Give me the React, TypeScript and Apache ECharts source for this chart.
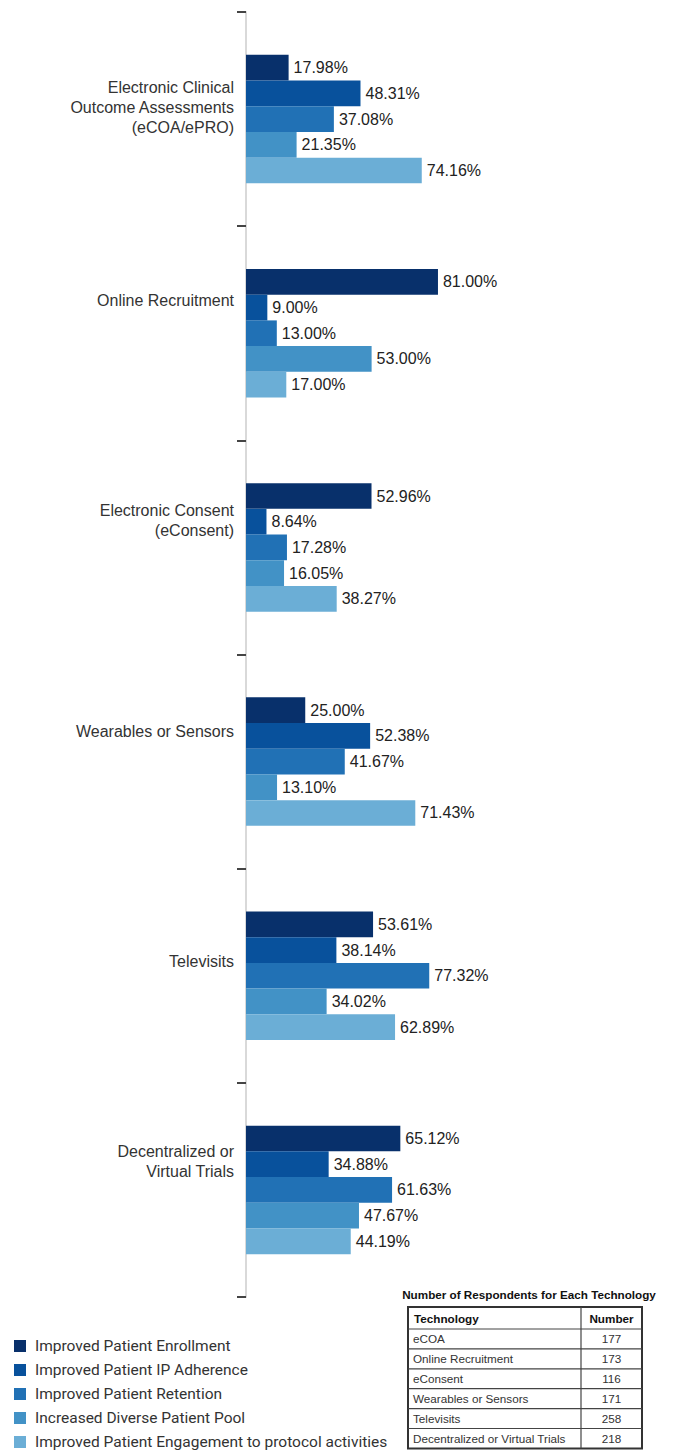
import React, { useEffect, useRef } from "react";
import * as echarts from "echarts";

const categories = [
  "Electronic Clinical\nOutcome Assessments\n(eCOA/ePRO)",
  "Online Recruitment",
  "Electronic Consent\n(eConsent)",
  "Wearables or Sensors",
  "Televisits",
  "Decentralized or\nVirtual Trials",
];

const seriesNames = [
  "Improved Patient Enrollment",
  "Improved Patient IP Adherence",
  "Improved Patient Retention",
  "Increased Diverse Patient Pool",
  "Improved Patient Engagement to protocol activities",
];

const enrollment = [17.98, 81.0, 52.96, 25.0, 53.61, 65.12];
const ipAdherence = [48.31, 9.0, 8.64, 52.38, 38.14, 34.88];
const retention = [37.08, 13.0, 17.28, 41.67, 77.32, 61.63];
const diversePool = [21.35, 53.0, 16.05, 13.1, 34.02, 47.67];
const engagement = [74.16, 17.0, 38.27, 71.43, 62.89, 44.19];

const tableTitle = "Number of Respondents for Each Technology";
const tableHeaders = ["Technology", "Number"];
const techNames = [
  "eCOA",
  "Online Recruitment",
  "eConsent",
  "Wearables or Sensors",
  "Televisits",
  "Decentralized or Virtual Trials",
];
const techCounts = [177, 173, 116, 171, 258, 218];

// layout / style (not data)
const colors = ["#08306b", "#08519c", "#2171b5", "#4292c6", "#6baed6"];
const labelShift = [12, 33, 27, 30, 14, 28];

export default function App() {
  const ref = useRef<HTMLDivElement>(null);

  useEffect(() => {
    document.body.style.margin = "0";
    const chart = echarts.init(ref.current!, null, { renderer: "svg" });

    const allSeries = [enrollment, ipAdherence, retention, diversePool, engagement];

    const rich: any = {
      t: { fontSize: 16, lineHeight: 20, color: "#333", fontFamily: "Liberation Sans, Arial, sans-serif", align: "right" },
    };
    labelShift.forEach((s, i) => {
      rich["s" + i] = { fontSize: 1, lineHeight: s * 2 };
    });

    const FF = "Liberation Sans, Arial, sans-serif";
    // table graphic
    const tL = 408, tR = 642, tDiv = 581, tTop = 1307, hdrH = 22, rowH = 19.9;
    const rowsY = [tTop, tTop + hdrH];
    for (let i = 1; i <= techNames.length; i++) rowsY.push(tTop + hdrH + rowH * i);
    const tBottom = rowsY[rowsY.length - 1];
    const g: any[] = [];
    g.push({
      type: "text",
      x: 529,
      y: 1294,
      style: {
        text: tableTitle,
        font: `bold 11.7px ${FF}`,
        fill: "#111",
        align: "center",
        verticalAlign: "middle",
      },
    });
    g.push({
      type: "rect",
      shape: { x: tL, y: tTop, width: tR - tL, height: tBottom - tTop },
      style: { fill: "#fff", stroke: "#333", lineWidth: 2 },
    });
    for (let i = 1; i < rowsY.length - 1; i++) {
      g.push({
        type: "line",
        shape: { x1: tL, y1: rowsY[i], x2: tR, y2: rowsY[i] },
        style: { stroke: "#444", lineWidth: 1.2 },
      });
    }
    g.push({
      type: "line",
      shape: { x1: tDiv, y1: tTop, x2: tDiv, y2: tBottom },
      style: { stroke: "#444", lineWidth: 1.2 },
    });
    g.push({
      type: "text",
      x: tL + 6,
      y: (rowsY[0] + rowsY[1]) / 2,
      style: { text: tableHeaders[0], font: `bold 11.7px ${FF}`, fill: "#111", verticalAlign: "middle" },
    });
    g.push({
      type: "text",
      x: (tDiv + tR) / 2,
      y: (rowsY[0] + rowsY[1]) / 2,
      style: { text: tableHeaders[1], font: `bold 11.7px ${FF}`, fill: "#111", align: "center", verticalAlign: "middle" },
    });
    techNames.forEach((n, i) => {
      const cy = (rowsY[i + 1] + rowsY[i + 2]) / 2;
      g.push({
        type: "text",
        x: tL + 5,
        y: cy,
        style: { text: n, font: `11.7px ${FF}`, fill: "#333", verticalAlign: "middle" },
      });
      g.push({
        type: "text",
        x: (tDiv + tR) / 2,
        y: cy,
        style: { text: String(techCounts[i]), font: `11.7px ${FF}`, fill: "#333", align: "center", verticalAlign: "middle" },
      });
    });

    chart.setOption({
      animation: false,
      backgroundColor: "#fff",
      grid: { left: 246, right: 190, top: 12, bottom: 155, containLabel: false },
      xAxis: { type: "value", min: 0, max: 100, show: false },
      yAxis: {
        type: "category",
        inverse: true,
        data: categories,
        axisLine: { show: true, lineStyle: { color: "#d9d9d9", width: 2 } },
        axisTick: { show: true, alignWithLabel: false, length: 9, lineStyle: { color: "#444", width: 2 } },
        axisLabel: {
          margin: 12,
          formatter: (v: string, i: number) =>
            v.split("\n").map((l) => `{t|${l}}`).join("\n") + `\n{s${i}| }`,
          rich,
        },
      },
      legend: {
        orient: "vertical",
        left: 9,
        top: 1333,
        height: 200,
        itemWidth: 12,
        itemHeight: 12,
        itemGap: 8,
        icon: "rect",
        data: seriesNames,
        textStyle: { fontSize: 15.5, color: "#333", fontFamily: "Roboto", padding: [0, 0, 0, 4] },
      },
      graphic: g,
      series: allSeries.map((d, i) => ({
        type: "bar",
        name: seriesNames[i],
        data: d,
        barGap: "0%",
        barCategoryGap: "40%",
        itemStyle: { color: colors[i] },
        label: {
          show: true,
          position: "right",
          distance: 5,
          formatter: (p: any) => p.value.toFixed(2) + "%",
          fontSize: 16,
          color: "#222",
          fontFamily: FF,
        },
      })),
    });

    return () => chart.dispose();
  }, []);

  return <div ref={ref} style={{ width: 673, height: 1452 }} />;
}
